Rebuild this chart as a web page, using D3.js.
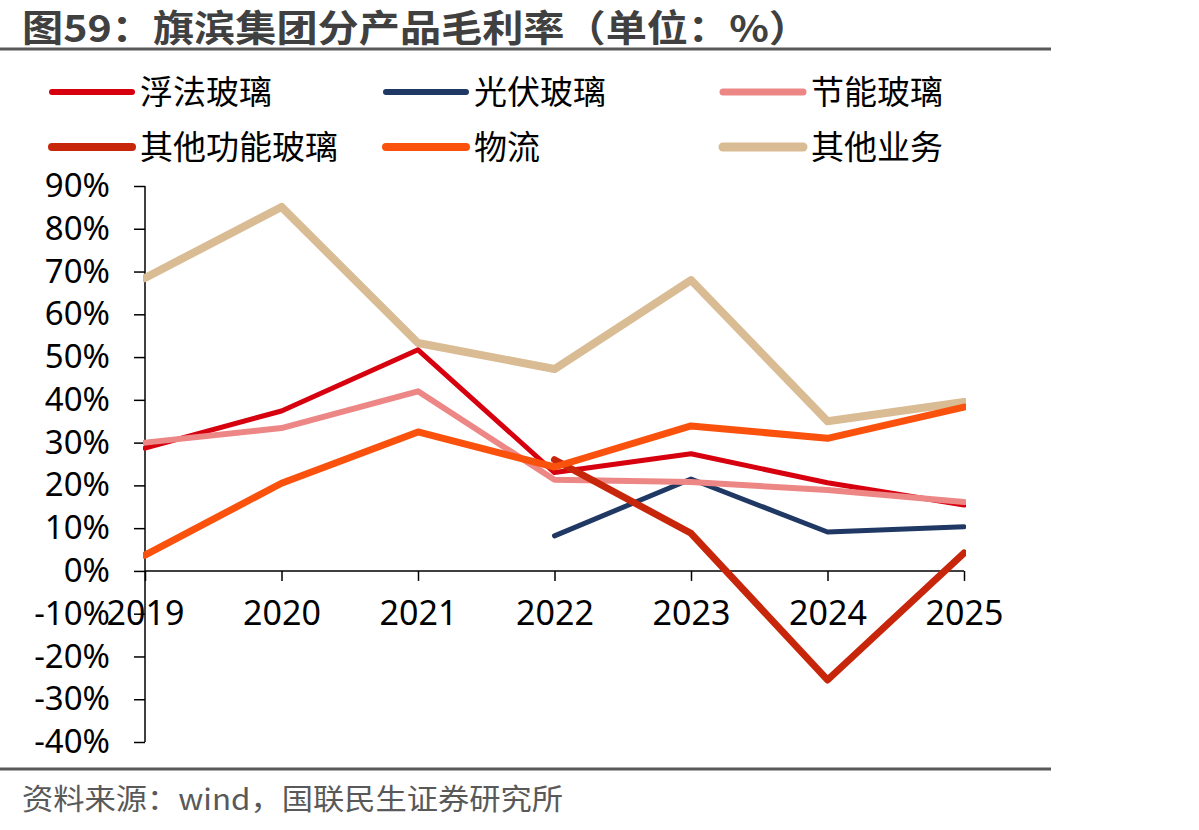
<!DOCTYPE html>
<html>
<head>
<meta charset="utf-8">
<script src="https://cdn.jsdelivr.net/npm/d3@7"></script>
<style>
  body { margin: 0; background: #fff; }
  svg { display: block; font-family: "Noto Sans CJK SC", "Noto Sans", sans-serif; }
</style>
</head>
<body>
<svg id="chart" width="1199" height="830"></svg>
<script>
const years = ['2019', '2020', '2021', '2022', '2023', '2024', '2025']
const yTicks = [90, 80, 70, 60, 50, 40, 30, 20, 10, 0, -10, -20, -30, -40]

// gross margin by segment, %, null = no data
const floatGlass = [28.7, 37.4, 51.7, 23.0, 27.4, 20.6, 15.4]
const pvGlass = [null, null, null, 8.2, 21.5, 9.1, 10.3]
const energyGlass = [30.0, 33.4, 42.0, 21.3, 20.8, 18.9, 16.1]
const otherFuncGlass = [null, null, null, 26.0, 8.8, -25.5, 4.2]
const logistics = [3.7, 20.5, 32.5, 24.3, 33.9, 31.0, 38.3]
const otherBiz = [68.5, 85.1, 53.3, 47.2, 68.0, 35.0, 39.5]

const seriesNames = ['浮法玻璃', '光伏玻璃', '节能玻璃', '其他功能玻璃', '物流', '其他业务']
const seriesValues = [floatGlass, pvGlass, energyGlass, otherFuncGlass, logistics, otherBiz]
const colors = ['#d7000f', '#203864', '#ec8786', '#c8260a', '#fa520c', '#d9bc94']
const widths = [5, 5, 6, 7, 7, 8]

const svg = d3.select('#chart')

// title
svg.append('text')
  .attr('x', 22).attr('y', 42)
  .attr('font-size', 37).attr('font-weight', 'bold')
  .attr('fill', '#404040')
  .attr('textLength', 788).attr('lengthAdjust', 'spacingAndGlyphs')
  .text('图59：旗滨集团分产品毛利率（单位：%）')

svg.append('line')
  .attr('x1', 0).attr('x2', 1051).attr('y1', 49).attr('y2', 49)
  .attr('stroke', '#595959').attr('stroke-width', 3)

// legend
const legendPos = [[50, 92], [384, 92], [721, 92], [50, 147], [384, 147], [721, 147]]
const legend = svg.append('g')
  .selectAll('g')
  .data(seriesNames)
  .enter().append('g')
  .attr('transform', (d, i) => `translate(${legendPos[i][0]},${legendPos[i][1]})`)
legend.append('line')
  .attr('x1', 2).attr('x2', 82)
  .attr('stroke', (d, i) => colors[i])
  .attr('stroke-width', (d, i) => widths[i] + 1)
  .attr('stroke-linecap', 'round')
legend.append('text')
  .attr('x', 90).attr('y', 12)
  .attr('font-size', 33).attr('fill', '#000')
  .text(d => d)

// scales
const x = d3.scalePoint().domain(years).range([145, 964])
const y = d3.scaleLinear().domain([-40, 90]).range([742, 186])

const yAxis = svg.append('g')
  .attr('transform', 'translate(145,0)')
  .call(d3.axisLeft(y).tickValues(yTicks).tickSize(11).tickPadding(24).tickFormat(d => d + '%'))
yAxis.select('.domain').remove()
yAxis.selectAll('.tick line').attr('stroke', '#000').attr('stroke-width', 1.5)
yAxis.selectAll('text').attr('font-size', 33).attr('fill', '#000').attr('font-family', '"Noto Sans", sans-serif')
svg.append('line')
  .attr('x1', 145).attr('x2', 145).attr('y1', y(90)).attr('y2', y(-40))
  .attr('stroke', '#000').attr('stroke-width', 1.5)

const xAxis = svg.append('g')
  .attr('transform', `translate(0,${y(0)})`)
  .call(d3.axisBottom(x).tickSize(10).tickPadding(20))
xAxis.select('.domain').remove()
xAxis.selectAll('.tick line').attr('stroke', '#000').attr('stroke-width', 1.5)
xAxis.selectAll('text').attr('font-size', 34).attr('fill', '#000').attr('font-family', '"Noto Sans", sans-serif')
svg.append('line')
  .attr('x1', 145).attr('x2', 964).attr('y1', y(0)).attr('y2', y(0))
  .attr('stroke', '#000').attr('stroke-width', 1.5)

// lines
svg.append('clipPath').attr('id', 'plot')
  .append('rect').attr('x', 143).attr('y', 150).attr('width', 823).attr('height', 620)

const line = d3.line()
  .defined(d => d != null)
  .x((d, i) => x(years[i]))
  .y(d => y(d))

const order = [5, 0, 1, 2, 3, 4]
svg.append('g')
  .attr('clip-path', 'url(#plot)')
  .selectAll('path')
  .data(order)
  .enter().append('path')
  .attr('d', i => line(seriesValues[i]))
  .attr('fill', 'none')
  .attr('stroke', i => colors[i])
  .attr('stroke-width', i => widths[i])
  .attr('stroke-linejoin', 'round')
  .attr('stroke-linecap', 'round')

// footer
svg.append('line')
  .attr('x1', 0).attr('x2', 1051).attr('y1', 769).attr('y2', 769)
  .attr('stroke', '#595959').attr('stroke-width', 3)

svg.append('text')
  .attr('x', 22).attr('y', 810)
  .attr('font-size', 29).attr('fill', '#595959')
  .attr('textLength', 541).attr('lengthAdjust', 'spacingAndGlyphs')
  .text('资料来源：wind，国联民生证券研究所')
</script>
</body>
</html>
